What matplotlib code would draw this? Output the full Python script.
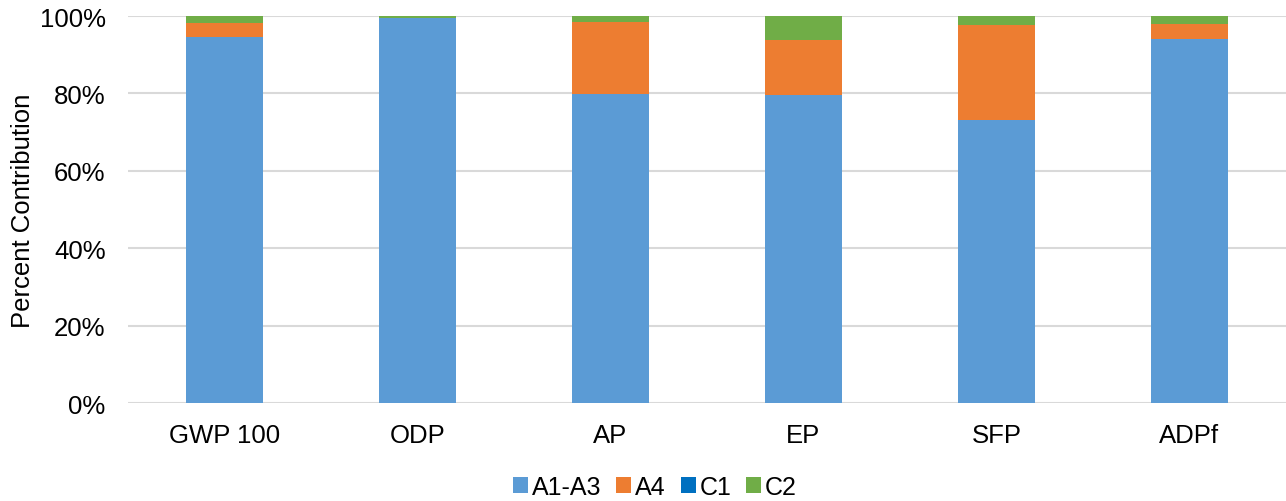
import numpy as np
import matplotlib.pyplot as plt
from matplotlib.ticker import PercentFormatter

plt.rcParams['font.family'] = ['Liberation Sans', 'DejaVu Sans']

categories = ['GWP 100', 'ODP', 'AP', 'EP', 'SFP', 'ADPf']
a1_a3 = [94.7, 99.4, 79.8, 79.5, 73.2, 94.2]
a4 = [3.6, 0.2, 18.6, 14.3, 24.6, 3.8]
c1 = [0.0, 0.0, 0.0, 0.0, 0.0, 0.0]
c2 = [1.7, 0.4, 1.6, 6.2, 2.2, 2.0]

series = [('A1-A3', a1_a3, '#5B9BD5'),
          ('A4', a4, '#ED7D31'),
          ('C1', c1, '#0070C0'),
          ('C2', c2, '#70AD47')]

fig = plt.figure(figsize=(12.86, 5.02), dpi=100)
ax = fig.add_axes([0.0995, 0.195, 0.9005, 0.771])

x = np.arange(len(categories))
bottom = np.zeros(len(categories))
for name, vals, col in series:
    vals = np.array(vals)
    ax.bar(x, vals, 0.4, bottom=bottom, color=col, label=name, zorder=3)
    bottom += vals

ax.set_xlim(-0.5, len(categories) - 0.5)
ax.set_ylim(0, 100)
ax.set_yticks(np.arange(0, 101, 20))
ax.yaxis.set_major_formatter(PercentFormatter(decimals=0))
ax.set_xticks(x)
ax.set_xticklabels(categories, fontsize=18.5)
ax.grid(axis='y', color='#D9D9D9', linewidth=1.5, zorder=0)
for s in ax.spines.values():
    s.set_visible(False)
ax.tick_params(axis='both', length=0, labelsize=18.5, colors='black')
ax.tick_params(axis='x', pad=14)
ax.tick_params(axis='y', pad=16)
ax.set_ylabel('Percent Contribution', fontsize=18.5)
ax.yaxis.set_label_coords(-0.08, 0.5)

ax.legend(loc='center', bbox_to_anchor=(0.455, -0.217),
          ncol=4, frameon=False, fontsize=18, handlelength=0.6, handleheight=0.6,
          handletextpad=0.15, columnspacing=0.6)

fig.savefig('out.png', dpi=100)
